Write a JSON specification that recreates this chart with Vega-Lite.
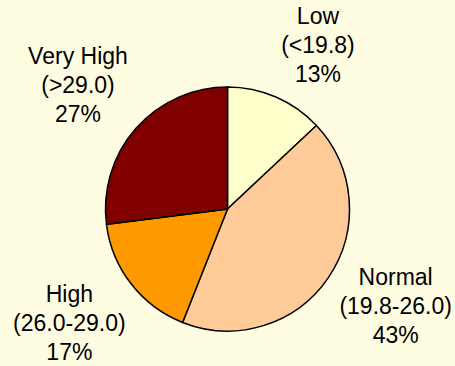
{
  "$schema": "https://vega.github.io/schema/vega-lite/v6.json",
  "width": 455,
  "height": 314,
  "autosize": {"type": "none"},
  "padding": {"top": 52, "left": 0, "right": 0, "bottom": 0},
  "background": "#FFFDE1",
  "config": {"view": {"stroke": null}},
  "data": {
    "values": [
      {"cat": "Low", "idx": 1, "pct": 13, "label": "Low\n(<19.8)\n13%"},
      {"cat": "Normal", "idx": 2, "pct": 43, "label": "Normal\n(19.8-26.0)\n43%"},
      {"cat": "High", "idx": 3, "pct": 17, "label": "High\n(26.0-29.0)\n17%"},
      {"cat": "Very High", "idx": 4, "pct": 27, "label": "Very High\n(>29.0)\n27%"}
    ]
  },
  "encoding": {
    "theta": {"field": "pct", "type": "quantitative", "stack": true},
    "order": {"field": "idx", "type": "quantitative"}
  },
  "layer": [
    {
      "mark": {"type": "arc", "outerRadius": 122, "stroke": "#000000", "strokeWidth": 1.5},
      "encoding": {
        "color": {
          "field": "cat", "type": "nominal", "legend": null,
          "scale": {"domain": ["Low", "Normal", "High", "Very High"], "range": ["#FFFFCC", "#FFCC99", "#FF9900", "#800000"]}
        }
      }
    },
    {
      "mark": {
        "type": "text", "radius": 190, "font": "Liberation Sans", "fontSize": 23,
        "lineBreak": "\n", "lineHeight": 29, "align": "center", "baseline": "middle", "color": "#000000",
        "dx": {"expr": "datum.cat == 'Low' ? 15 : datum.cat == 'Normal' ? 11 : datum.cat == 'High' ? -8 : -7"},
        "dy": {"expr": "datum.cat == 'Low' ? -18 : datum.cat == 'Normal' ? -38 : datum.cat == 'High' ? -30 : -26"}
      },
      "encoding": {"text": {"field": "label", "type": "nominal"}}
    }
  ]
}
